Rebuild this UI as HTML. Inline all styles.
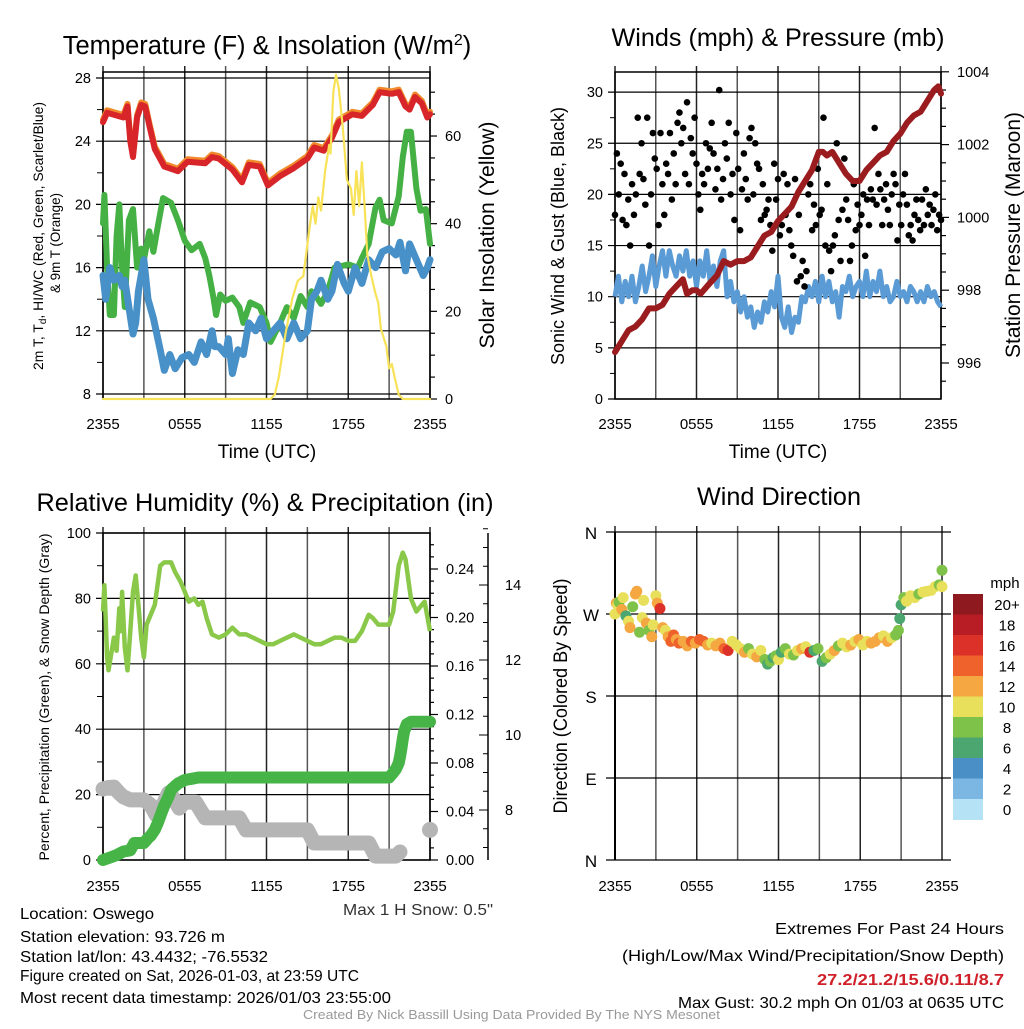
<!DOCTYPE html>
<html><head><meta charset="utf-8"><style>
body{margin:0;background:#fff}
svg text{font-family:"Liberation Sans",Arial,sans-serif;fill:#000}
</style></head><body>
<svg id="c" width="1024" height="1024" viewBox="0 0 1024 1024" xmlns="http://www.w3.org/2000/svg">
<text x="267" y="54" font-size="25.5" text-anchor="middle">Temperature (F) &amp; Insolation (W/m<tspan dy="-9" font-size="16">2</tspan><tspan dy="9">)</tspan></text>
<text x="778" y="46" font-size="25" text-anchor="middle" textLength="333" lengthAdjust="spacingAndGlyphs">Winds (mph) &amp; Pressure (mb)</text>
<text x="265" y="511" font-size="25" text-anchor="middle" textLength="457" lengthAdjust="spacingAndGlyphs">Relative Humidity (%) &amp; Precipitation (in)</text>
<text x="779" y="505" font-size="25" text-anchor="middle" textLength="164" lengthAdjust="spacingAndGlyphs">Wind Direction</text>
<g id="p1"></g>
<g id="p2"></g>
<g id="p3"></g>
<g id="p4"></g>
<text transform="translate(43,236) rotate(-90)" font-size="14" text-anchor="middle" textLength="268" lengthAdjust="spacingAndGlyphs">2m T, T<tspan font-size="10" dy="3">d</tspan><tspan dy="-3">, HI/WC (Red, Green, Scarlet/Blue)</tspan></text>
<text transform="translate(60,243) rotate(-90)" font-size="14" text-anchor="middle" textLength="100" lengthAdjust="spacingAndGlyphs">&amp; 9m T (Orange)</text>
<text transform="translate(494,235) rotate(-90)" font-size="21" text-anchor="middle" textLength="227" lengthAdjust="spacingAndGlyphs">Solar Insolation (Yellow)</text>
<text transform="translate(564,236) rotate(-90)" font-size="18" text-anchor="middle" textLength="258" lengthAdjust="spacingAndGlyphs">Sonic Wind &amp; Gust (Blue, Black)</text>
<text transform="translate(1020,235) rotate(-90)" font-size="21" text-anchor="middle" textLength="246" lengthAdjust="spacingAndGlyphs">Station Pressure (Maroon)</text>
<text transform="translate(49,697) rotate(-90)" font-size="14" text-anchor="middle" textLength="327" lengthAdjust="spacingAndGlyphs">Percent, Precipitation (Green), &amp; Snow Depth (Gray)</text>
<text transform="translate(567,696) rotate(-90)" font-size="19" text-anchor="middle" textLength="235" lengthAdjust="spacingAndGlyphs">Direction (Colored By Speed)</text>
<text x="267" y="458" font-size="19" text-anchor="middle">Time (UTC)</text>
<text x="778" y="458" font-size="19" text-anchor="middle">Time (UTC)</text>
<text x="343" y="915" font-size="16" textLength="150" lengthAdjust="spacingAndGlyphs" style="fill:#333">Max 1 H Snow: 0.5"</text>
<g font-size="16">
<text x="20" y="919" textLength="134" lengthAdjust="spacingAndGlyphs">Location: Oswego</text>
<text x="20" y="942" textLength="205" lengthAdjust="spacingAndGlyphs">Station elevation: 93.726 m</text>
<text x="20" y="962" textLength="248" lengthAdjust="spacingAndGlyphs">Station lat/lon: 43.4432; -76.5532</text>
<text x="20" y="981" textLength="339" lengthAdjust="spacingAndGlyphs">Figure created on Sat, 2026-01-03, at 23:59 UTC</text>
<text x="20" y="1003" textLength="371" lengthAdjust="spacingAndGlyphs">Most recent data timestamp: 2026/01/03 23:55:00</text>
</g>
<g font-size="16">
<text x="775" y="934" textLength="229" lengthAdjust="spacingAndGlyphs">Extremes For Past 24 Hours</text>
<text x="622" y="961" textLength="382" lengthAdjust="spacingAndGlyphs">(High/Low/Max Wind/Precipitation/Snow Depth)</text>
<text x="817" y="985" font-weight="bold" textLength="187" lengthAdjust="spacingAndGlyphs" style="fill:#d0202a">27.2/21.2/15.6/0.11/8.7</text>
<text x="678" y="1008" textLength="326" lengthAdjust="spacingAndGlyphs">Max Gust: 30.2 mph On 01/03 at 0635 UTC</text>
</g>
<text x="303" y="1019" font-size="13" textLength="417" lengthAdjust="spacingAndGlyphs" style="fill:#999">Created By Nick Bassill Using Data Provided By The NYS Mesonet</text>
</svg>
<script>
const xTickLabels=["2355","0555","1155","1755","2355"];
const tempTicks=[8,12,16,20,24,28];
const insolTicks=[0,20,40,60];
const windTicks=[0,5,10,15,20,25,30];
const presTicks=[996,998,1000,1002,1004];
const rhTicks=[0,20,40,60,80,100];
const precipTicks=[0.00,0.04,0.08,0.12,0.16,0.20,0.24];
const snowTicks=[8,10,12,14];
const dirTicks=["N","E","S","W","N"];
const dirTickVals=[0,90,180,270,360];

const tempT=[0,0.3,1.5,1.8,2.0,2.2,2.5,2.8,3.1,3.4,3.8,4.5,5.5,6.2,7.5,8,8.5,9.5,10.2,10.7,11.5,12.1,13,14,15,15.5,16.2,16.8,17.3,18.3,19,19.8,20.3,21.2,21.7,22.2,22.5,22.9,23.4,23.8,24];
const tempV=[25.2,25.8,25.5,26.2,24,23,25.5,26.3,26.2,25,23.5,22.4,22.1,22.7,22.6,23,22.9,22.2,21.4,22.5,22.4,21.2,21.8,22.3,22.9,23.6,23.4,24.2,25.2,25.7,25.6,26.3,27.1,27,27.1,26.2,26,26.8,26.4,25.5,25.7];
const dewT=[0,0.1,0.3,0.5,0.8,1.0,1.2,1.4,1.6,1.9,2.2,2.5,2.8,3.0,3.4,3.7,4.0,4.4,5.0,5.5,6.0,6.5,7.1,7.5,7.8,8.1,8.3,8.6,9.0,9.5,10.0,10.3,10.8,11.5,12.0,12.3,13,13.5,14,14.5,15,15.3,15.7,16,16.5,17,18,18.7,19,19.5,20,20.3,20.6,21.2,21.7,22,22.3,22.6,23,23.3,23.7,24];
const dewV=[18.8,20.6,16,13,13,18,20,16,13.5,19,19.7,16,17.2,16.5,18.3,17,18.5,20.4,20.1,19,17.7,17.1,17.5,16.6,15.5,14.1,13,14.3,13.9,14.1,13.5,12.5,13.8,13.5,12.5,11.3,12.5,13.5,12.8,14.2,13.5,14.5,14.1,13.7,14.5,16,16.2,16,16.6,17.5,19.8,20.3,19,18.8,20.5,23,24.6,24.6,21,19.6,19.7,17.5];
const wcT=[0,0.2,0.5,0.8,1.2,1.4,1.6,1.9,2.2,2.4,2.6,3,3.3,3.7,4.2,4.5,4.9,5.3,5.8,6.3,6.7,7.2,7.6,8.0,8.2,8.5,9.0,9.2,9.5,9.9,10.3,10.7,11.2,11.6,12,12.5,13,13.5,14,14.5,15,15.3,15.7,16,16.5,16.8,17.2,17.7,18,18.5,19,19.5,20,20.5,21,21.5,21.8,22.2,22.5,23,23.5,23.8,24];
const wcV=[15.5,14,16,15.2,15.5,14.8,15.2,13.5,11.8,12.5,14.5,16.5,14,12.8,10.8,9.5,10.5,9.6,10.3,10.5,10.0,11.3,10.5,12,11,11,10.5,11.5,9.3,10.8,10.5,12.5,12.0,12.8,11.5,12.0,12.5,11.5,12.5,11.5,12,14,14.5,15.2,14,14.5,16.2,15,14.5,16.0,15,16.5,16,17,17.2,16.8,17.6,15.8,17.5,16.5,15.5,16,16.5];
const insT=[0,12.3,12.6,12.9,13.4,13.9,14.3,14.7,15.2,15.4,15.6,15.8,16.0,16.3,16.6,16.7,16.9,17.1,17.3,17.6,17.9,18.2,18.4,18.6,18.8,19.0,19.2,19.4,19.7,20.0,20.2,20.4,20.8,21.0,21.2,21.4,21.7,22,24];
const insV=[0,0,1,5,15,23,27,28,40,44,40,46,43,52,58,56,70,74,71,62,50,48,42,52,44,54,44,33,28,24,22,16,12,7,8,5,1,0,0];

const windT=[0,0.25,0.5,0.75,1,1.25,1.5,1.75,2,2.25,2.5,2.75,3,3.25,3.5,3.75,4,4.25,4.5,4.75,5,5.25,5.5,5.75,6,6.25,6.5,6.75,7,7.25,7.5,7.75,8,8.25,8.5,8.75,9,9.25,9.5,9.75,10,10.25,10.5,10.75,11,11.25,11.5,11.75,12,12.25,12.5,12.75,13,13.25,13.5,13.75,14,14.25,14.5,14.75,15,15.25,15.5,15.75,16,16.25,16.5,16.75,17,17.25,17.5,17.75,18,18.25,18.5,18.75,19,19.25,19.5,19.75,20,20.25,20.5,20.75,21,21.25,21.5,21.75,22,22.25,22.5,22.75,23,23.25,23.5,23.75,24];
const windV=[10,12,9.5,11.5,10,12,9.5,11,13,10.5,12,14,11,13,14.5,12,14.5,13,12,14,12.5,14.5,12,13.5,11,13.5,12,14.5,11.5,13,11,13.5,14.5,10,11.5,9.5,10.5,8.5,10,8,9,7,8.5,7.5,9.5,8.5,10.5,9,12,8,7,9,6.5,8,7.5,10,9.5,11,10,11.5,9.5,12,10,11.5,9.5,10.5,8,11,10.5,12,10,11,11.5,10,12.5,10,11.5,10.5,12.5,10,11,9.5,10,11.5,10,10.5,9.5,11,10.5,9.5,10.5,9.5,11,10,10.5,9.5,9];
const presT=[0,0.5,1,1.5,2,2.5,3,3.5,4,4.5,5,5.3,5.7,6,6.3,7,7.5,8,8.5,9,9.5,10,10.5,11,11.5,12,12.5,13,13.5,14,14.5,15,15.3,15.6,16,16.5,17,17.5,18,18.5,19,19.5,20,20.5,21,21.5,22,22.5,23,23.5,23.8,24];
const presV=[996.3,996.6,996.9,997.0,997.2,997.5,997.5,997.6,997.9,998.1,998.3,997.9,998.0,998.0,997.9,998.2,998.4,998.8,998.7,998.8,998.8,998.9,999.2,999.5,999.6,999.9,1000.1,1000.3,1000.7,1001.0,1001.3,1001.8,1001.8,1001.7,1001.8,1001.5,1001.2,1001.0,1001.0,1001.3,1001.5,1001.7,1001.8,1002.1,1002.3,1002.6,1002.8,1002.9,1003.2,1003.5,1003.6,1003.4];
const gustV=[18,24,20,23,17.5,22,17,19.5,15,21,18,20,27.5,22,25,21.5,19,27.5,15,20,26,23.5,22.5,17,26,21,18,23,22,26,19.5,24,21,27,28,25,26.5,22,29,21,25.5,24,27.5,23,20,18.5,22,21,25,22.5,24.5,27,24,20.5,22.5,30.2,19.5,21.5,25,23.5,27,20,22,17.5,26,22.5,16.5,20.5,24,21.5,19.5,25.5,26.5,20,25,23,22.5,17.5,21,18,18.5,19.5,17,14.5,23,19.5,21.5,16,17,22,18,21,16.5,15,14,21.5,11.5,18,12,13.5,11,12.5,20,21,16.5,19,17,22.5,18,18.5,27.5,15,21,14.5,12.5,15,16,25,17.5,13.5,18.5,23.5,19.5,17.5,13.5,15,21,16.5,19,17,18,20,14,19.5,17,20.5,19.5,26.5,19,22,20.5,17,19.5,21,18.5,17,20,22,21,15.5,19,17,20,22,19,16,17,15.5,18,19.5,17.5,16.5,19.5,17,20.5,18,19,17,18.5,20,16.5,18,17.5];

const rhT=[0,0.1,0.3,0.4,0.6,0.8,1.0,1.2,1.3,1.4,1.6,1.8,2.0,2.2,2.4,2.6,2.8,3.0,3.2,3.5,3.8,4.2,4.5,5.0,5.3,5.7,6.0,6.3,6.7,7.0,7.3,7.6,8.0,8.5,9.0,9.5,10.0,10.5,11.0,11.5,12.0,12.5,13.0,13.5,14.0,14.5,15.0,15.5,16.0,16.5,17.0,17.5,18.0,18.5,19.0,19.5,19.8,20.2,21.0,21.3,21.7,22.0,22.2,22.6,23.0,23.4,23.6,24];
const rhV=[76,84,62,58,63,68,64,77,70,82,65,58,70,82,87,78,68,62,72,75,78,90,91,91,88,85,82,79,80,78,79,74,69,68,69,71,69,69,68,67,66,66,67,68,69,68,67,66,66,67,68,68,67,67,70,75,74,72,72,76,90,94,92,80,76,78,79,70];
const precipT=[0,0.5,1,1.5,2,2.3,2.6,3.0,3.3,3.5,3.8,4,4.2,4.5,4.8,5.0,5.3,5.5,6.0,6.5,7,8,9,10,11,12,13,14,15,16,17,18,19,20,21,21.3,21.5,21.7,21.8,21.9,22.0,22.1,22.3,22.6,23,23.5,24];
const precipV=[0,0.002,0.004,0.007,0.008,0.014,0.014,0.014,0.018,0.02,0.025,0.03,0.036,0.045,0.052,0.058,0.061,0.063,0.066,0.067,0.068,0.068,0.068,0.068,0.068,0.068,0.068,0.068,0.068,0.068,0.068,0.068,0.068,0.068,0.068,0.072,0.075,0.08,0.085,0.092,0.1,0.106,0.112,0.114,0.114,0.114,0.114];
const snowT=[0,0.4,0.8,1.2,1.5,2,2.5,3,3.5,3.9,4.3,4.8,5.2,5.6,6,6.4,6.8,7.5,8,8.5,9,9.5,10,10.5,11,12,13,14,15,15.5,16,17,18,19,19.5,20,20.5,21,21.5,21.8];
const snowV=[8.56,8.6,8.61,8.45,8.35,8.27,8.27,8.27,8.13,7.87,8.05,8.45,8.3,8.05,8.21,8.21,8.21,7.79,7.79,7.79,7.79,7.79,7.79,7.47,7.47,7.47,7.47,7.47,7.47,7.12,7.12,7.12,7.12,7.12,7.12,6.77,6.77,6.77,6.77,6.88];
const snowLastT=[24];
const snowLastV=[7.47];

const dirT=[0,0.1,0.2,0.3,0.5,0.6,0.8,1.0,1.1,1.3,1.5,1.6,1.8,2.0,2.1,2.3,2.5,2.7,2.8,3.0,3.1,3.3,3.5,3.7,3.9,4.1,4.3,4.5,4.7,5.0,5.3,5.6,5.9,6.2,6.5,6.8,7.1,7.4,7.7,8.0,8.3,8.6,8.9,9.2,9.5,9.8,10.1,10.4,10.7,11,11.2,11.4,11.6,11.8,12,12.2,12.5,12.8,13.1,13.4,13.7,14,14.3,14.6,14.9,15.2,15.5,15.8,16.1,16.4,16.7,17,17.3,17.6,17.9,18.2,18.5,18.8,19.1,19.4,19.7,20,20.3,20.6,20.8,20.9,21.0,21.2,21.4,21.7,22.0,22.3,22.6,22.9,23.2,23.5,23.8,24,24];
const dirV=[270,282,280,283,275,288,268,262,255,278,292,295,250,266,285,260,252,245,258,290,282,276,255,252,245,240,247,242,238,240,235,240,238,242,240,236,238,235,238,232,230,240,236,232,228,232,226,223,230,220,215,218,222,224,220,228,232,226,225,230,232,234,228,230,232,218,222,226,230,235,238,234,236,240,242,236,240,238,240,244,246,240,244,247,252,265,280,288,284,290,288,292,294,295,296,300,302,300,318];
const dirS=[10,12,11,8,12,10,7,10,12,8,12,12,8,10,10,12,8,12,10,10,12,17,12,10,13,14,14,13,14,13,12,14,13,14,15,12,10,12,12,14,17,10,10,11,12,9,10,13,10,8,7,8,7,8,10,6,8,10,8,10,12,10,16,7,8,7,8,10,12,9,11,10,12,10,12,11,10,12,12,12,10,12,10,8,8,7,6,8,10,10,10,9,10,10,11,10,9,10,8];
const speedColors=["#b6e2f6","#7cb7e3","#4a8fc6","#4ba66f","#7fc24a","#e8e05a","#f5a742","#f0622b","#dc3128","#b81c25","#8e1a1f"];
const speedLabels=["0","2","4","6","8","10","12","14","16","18","20+"];

const NS="http://www.w3.org/2000/svg";
function mk(p,tag,a){const e=document.createElementNS(NS,tag);for(const k in a)e.setAttribute(k,a[k]);p.appendChild(e);return e;}
function txt(p,x,y,s,fs,anchor){const e=mk(p,"text",{x:x,y:y,"font-size":fs,"text-anchor":anchor||"middle"});e.textContent=s;return e;}
function pathD(T,V,fx,fy){return T.map((t,i)=>(i?"L":"M")+fx(t).toFixed(1)+","+fy(V[i]).toFixed(1)).join("");}

function frame(g,x0,x1,top,bot){
  for(let i=0;i<=8;i++){const x=x0+(x1-x0)*i/8;
    const l=mk(g,"line",{x1:x,x2:x,y1:top-6,y2:bot,stroke:i%2?"#555":"#222","stroke-width":1.5});
    
    
  }
  for(let i=0;i<5;i++){const x=x0+(x1-x0)*i/4;
    const t=txt(g,x,bot>500?891:429,xTickLabels[i],15);
    
    
  }
  mk(g,"rect",{x:x0,y:top,width:x1-x0,height:bot-top,fill:"none",stroke:"#000","stroke-width":1.5});
}
function hgrid(g,x0,x1,y,label,side){
  mk(g,"line",{x1:x0-7,x2:x1,y1:y,y2:y,stroke:"#000","stroke-width":1.2});
  const t=txt(g,side==="l"?x0-12:x1+12,y+5,label,14.5,side==="l"?"end":"start");
  
  
}
function rtick(g,x,y,len,label){
  mk(g,"line",{x1:x,x2:x+len,y1:y,y2:y,stroke:"#000","stroke-width":1.2});
  if(label!==null){const t=txt(g,x+len+8,y+5,label,14.5,"start");
    
    }
}

// Panel 1
(function(){
  const g=document.getElementById("p1"),x0=103,x1=430,top=72,bot=399;
  const X=t=>x0+(x1-x0)*t/24, YL=v=>394-(v-8)*15.8, YR=v=>399-v*4.383;
  frame(g,x0,x1,top,bot);
  tempTicks.forEach(v=>hgrid(g,x0,x1,YL(v),String(v),"l"));
  for(let v=10;v<28;v+=4)mk(g,"line",{x1:x0-6,x2:x0,y1:YL(v),y2:YL(v),stroke:"#000"});
  for(let v=0;v<=70;v+=5)rtick(g,x1,YR(v),v%20===0?7:5,insolTicks.includes(v)?String(v):null);
  const s=(d,c,w,n)=>{const p=mk(g,"path",{d:d,fill:"none",stroke:c,"stroke-width":w,"stroke-linejoin":"round","stroke-linecap":"round"});return p;};
  s(pathD(dewT,dewV,X,YL),"#45b043",6,"dewpoint-line");
  s(pathD(wcT,wcV,X,YL),"#4890c8",7,"windchill-line");
  const o=s(pathD(tempT,tempV,X,YL),"#f08a2a",6,"9m-temp-line");o.setAttribute("transform","translate(0,-2.5)");
  s(pathD(tempT,tempV,X,YL),"#d7252a",6,"2m-temp-line");
  s(pathD(insT,insV,X,YR),"#f7e258",2.2,"insolation-line");
})();

// Panel 2
(function(){
  const g=document.getElementById("p2"),x0=615,x1=941,top=72,bot=399;
  const X=t=>x0+(x1-x0)*t/24, YL=v=>399-v*10.23, YR=p=>363-(p-996)*36.4;
  frame(g,x0,x1,top,bot);
  windTicks.forEach(v=>hgrid(g,x0,x1,YL(v),String(v),"l"));
  for(let v=2.5;v<32;v+=5)mk(g,"line",{x1:x0-5,x2:x0,y1:YL(v),y2:YL(v),stroke:"#000"});
  for(let p=995.5;p<=1004.01;p+=0.5)rtick(g,x1,YR(p),Number.isInteger(p)&&p%2===0?8:5,presTicks.includes(p)?String(p):null);
  const w=mk(g,"path",{d:pathD(windT,windV,X,YL),fill:"none",stroke:"#5b9bd5","stroke-width":5,"stroke-linejoin":"round"});
  
  
  gustV.forEach((v,i)=>{const c=mk(g,"circle",{cx:X(i*24/(gustV.length-1)),cy:YL(v),r:3.3,fill:"#000"});
    
    });
  const p=mk(g,"path",{d:pathD(presT,presV,X,YR),fill:"none",stroke:"#9b1c1f","stroke-width":6,"stroke-linejoin":"round","stroke-linecap":"round"});
  
  
})();

// Panel 3
(function(){
  const g=document.getElementById("p3"),x0=103,x1=430,top=533,bot=860;
  const X=t=>x0+(x1-x0)*t/24, YL=v=>860-v*3.27, YR=v=>860-v*1212.5, Y3=v=>810-(v-8)*37.5;
  frame(g,x0,x1,top,bot);
  rhTicks.forEach(v=>hgrid(g,x0,x1,YL(v),String(v),"l"));
  for(let v=10;v<100;v+=20)mk(g,"line",{x1:x0-6,x2:x0,y1:YL(v),y2:YL(v),stroke:"#000"});
  for(let v=0;v<=0.27;v+=0.01){const r=Math.round(v*100)/100;const isT=precipTicks.some(t=>Math.abs(t-r)<1e-6);
    rtick(g,x1,YR(r),isT?8:4,isT?r.toFixed(2):null);}
  mk(g,"line",{x1:488,x2:488,y1:533,y2:860,stroke:"#000","stroke-width":1.5});
  for(let v=7;v<=15.6;v+=0.5){const isT=snowTicks.includes(v);
    mk(g,"line",{x1:488,x2:488-(isT?9:5),y1:Y3(v),y2:Y3(v),stroke:"#000"});
    if(isT){const t=txt(g,505,Y3(v)+5,String(v),14.5,"start");
      
      }}
  const rh=mk(g,"path",{d:pathD(rhT,rhV,X,YL),fill:"none",stroke:"#8ac84a","stroke-width":4.5,"stroke-linejoin":"round"});
  
  
  const sp=mk(g,"path",{d:pathD(snowT,snowV,X,Y3),fill:"none",stroke:"#b5b5b5","stroke-width":15,"stroke-linejoin":"round","stroke-linecap":"round"});
  
  
  snowLastT.forEach((t,i)=>{const c=mk(g,"circle",{cx:X(t),cy:Y3(snowLastV[i]),r:8,fill:"#b5b5b5"});
    
    });
  const pp=mk(g,"path",{d:pathD(precipT,precipV,X,YR),fill:"none",stroke:"#46b447","stroke-width":12,"stroke-linejoin":"round","stroke-linecap":"round"});
  
  
})();

// Panel 4
(function(){
  const g=document.getElementById("p4"),x0=615,x1=942,top=532,bot=860;
  const X=t=>x0+(x1-x0)*t/24, Y=d=>860-d*0.9111;
  frame(g,x0,x1,top,bot);
  g.querySelector("rect").setAttribute("stroke","none");
  mk(g,"line",{x1:x0,x2:x0,y1:top,y2:bot,stroke:"#000","stroke-width":2});
  dirTickVals.forEach((d,i)=>{mk(g,"line",{x1:x0-9,x2:x1+9,y1:Y(d),y2:Y(d),stroke:"#000","stroke-width":1.2});
    const t=txt(g,591,Y(d)+7,dirTicks[i],17);
    
    });
  dirT.forEach((t,i)=>{const ci=Math.min(10,Math.floor(dirS[i]/2));
    const c=mk(g,"circle",{cx:X(t),cy:Y(dirV[i]),r:5.5,fill:speedColors[ci]});
    
    });
  const lg=mk(g,"g",{});
  
  
  const mt=txt(lg,1005,588,"mph",15);
  
  
  for(let i=0;i<11;i++){const k=10-i,y=594+i*20.5;
    const r=mk(lg,"rect",{x:953,y:y,width:30,height:21,fill:speedColors[k]});
    
    
    const t=txt(lg,1007,y+16,speedLabels[k],15);
    
    }
})();
</script>
</body></html>
